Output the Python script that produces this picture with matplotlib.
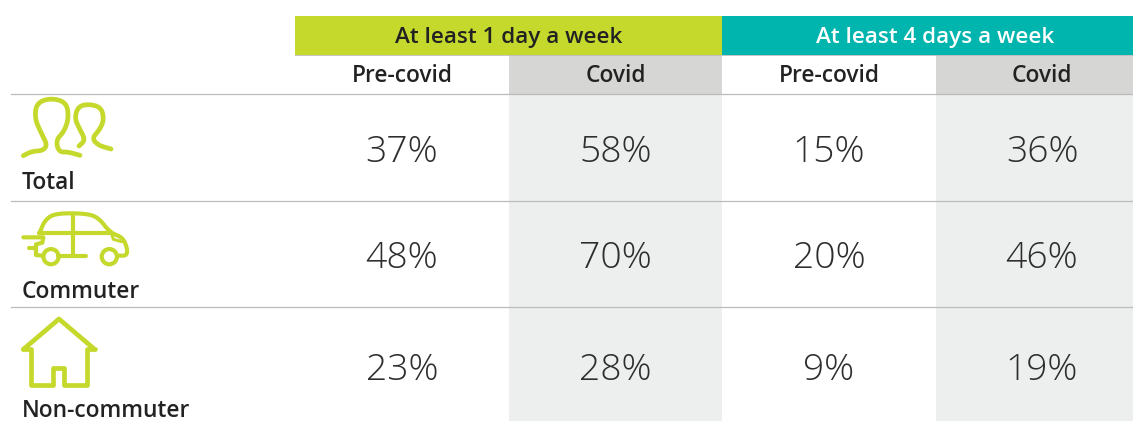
import numpy as np
import matplotlib
matplotlib.use("Agg")
from matplotlib import pyplot as plt
from matplotlib.patches import Rectangle, Circle

plt.rcParams['font.family'] = ['Open Sans', 'DejaVu Sans']

groups = ["At least 1 day a week", "At least 4 days a week"]
periods = ["Pre-covid", "Covid", "Pre-covid", "Covid"]
rows = ["Total", "Commuter", "Non-commuter"]
total_vals = ["37%", "58%", "15%", "36%"]
commuter_vals = ["48%", "70%", "20%", "46%"]
noncommuter_vals = ["23%", "28%", "9%", "19%"]

GREEN = '#c5d92d'
TEAL = '#00b5ad'
DARK = '#222222'
LINE = '#bcbcbc'


def chaikin(pts, n=3):
    """Round off a polyline"""
    pts = np.array(pts, dtype=float)
    for _ in range(n):
        a = pts[:-1] * 0.75 + pts[1:] * 0.25
        b = pts[:-1] * 0.25 + pts[1:] * 0.75
        mid = np.empty((len(a) * 2, 2))
        mid[0::2] = a
        mid[1::2] = b
        pts = np.vstack([pts[0], mid, pts[-1]])
    return pts


def icon_line(ax, pts, smooth=False, lw=3.4):
    # icon points are measured on the 3x crop of the left column
    pts = np.array(pts, dtype=float)
    if smooth:
        pts = chaikin(pts)
    ax.plot(pts[:, 0] / 3, 90 + pts[:, 1] / 3, color=GREEN, lw=lw,
            solid_capstyle='round', solid_joinstyle='round', zorder=4)


fig = plt.figure(figsize=(11.33, 4.21), dpi=100)
ax = fig.add_axes([0, 0, 1, 1])
ax.set_xlim(0, 1133)
ax.set_ylim(421, 0)
ax.axis('off')

# Header bands and shaded columns
col_edges = [295, 509, 722, 936, 1133]
ax.add_patch(Rectangle((295, 16), 427, 39, color=GREEN, lw=0))
ax.add_patch(Rectangle((722, 16), 411, 39, color=TEAL, lw=0))
for i in (1, 3):
    x0, x1 = col_edges[i], col_edges[i + 1]
    ax.add_patch(Rectangle((x0, 55), x1 - x0, 39, color='#d6d6d5', lw=0))
    ax.add_patch(Rectangle((x0, 94), x1 - x0, 327, color='#edeeee', lw=0))

for y in (94, 201, 307):
    ax.plot([11, 1133], [y, y], color=LINE, lw=0.9, zorder=3)
ax.plot([295, 1133], [55, 55], color=LINE, lw=0.6, zorder=3)

ax.text(508.5, 37, groups[0], ha='center', va='center', fontsize=16.2,
        fontweight='semibold', color=DARK)
ax.text(935.5, 37, groups[1], ha='center', va='center', fontsize=16.2,
        fontweight='semibold', color='white')

centers = [402, 615.5, 829, 1042]
for c, p in zip(centers, periods):
    ax.text(c, 76, p, ha='center', va='center', fontsize=16.4,
            fontweight='semibold', color=DARK)

row_y = [153, 259, 371]
label_y = [183, 292, 411]
all_vals = [total_vals, commuter_vals, noncommuter_vals]
for name, ly, vy, vals in zip(rows, label_y, row_y, all_vals):
    ax.text(22, ly, name, ha='left', va='center', fontsize=16.4,
            fontweight='semibold', color=DARK)
    for c, v in zip(centers, vals):
        ax.text(c, vy, v, ha='center', va='center', fontsize=26.8,
                fontweight='light', color='#2e2e2e')

# Total icon
icon_line(ax, [(70, 197), (95, 184), (128, 182), (142, 165), (124, 130), (104, 85),
               (110, 38), (155, 24), (200, 38), (206, 85), (192, 125), (168, 150),
               (176, 186), (205, 186), (240, 196)], smooth=True)
icon_line(ax, [(237, 168), (256, 150), (238, 115), (224, 85), (234, 50), (265, 42),
               (304, 52), (312, 90), (298, 120), (276, 145), (295, 166), (333, 177)],
          smooth=True)

# Commuter icon
icon_line(ax, [(70, 442), (130, 442), (127, 458), (108, 463), (108, 495), (130, 497)], lw=3.0)
icon_line(ax, [(88, 475), (108, 475)], lw=3.0)
icon_line(ax, [(118, 430), (135, 390), (165, 370), (255, 370), (295, 382), (330, 428),
               (368, 442), (382, 475), (380, 497), (357, 497)], smooth=True, lw=3.0)
icon_line(ax, [(118, 430), (330, 430)], lw=3.0)
icon_line(ax, [(218, 373), (218, 497)], lw=3.0)
icon_line(ax, [(175, 497), (258, 497)], lw=3.0)
icon_line(ax, [(335, 432), (340, 448), (365, 455)], lw=2.2)
for zx, zy in [(153, 500), (328, 500)]:
    ax.add_patch(Circle((zx / 3, 90 + zy / 3), 7.6, fill=False, ec=GREEN, lw=3.0, zorder=4))

# Non-commuter icon
icon_line(ax, [(70, 778), (177, 687), (284, 778)])
icon_line(ax, [(70, 778), (92, 778), (92, 885), (160, 885), (160, 835), (193, 835),
               (193, 885), (262, 885), (262, 778), (284, 778)])

fig.savefig('out.png', dpi=100)
